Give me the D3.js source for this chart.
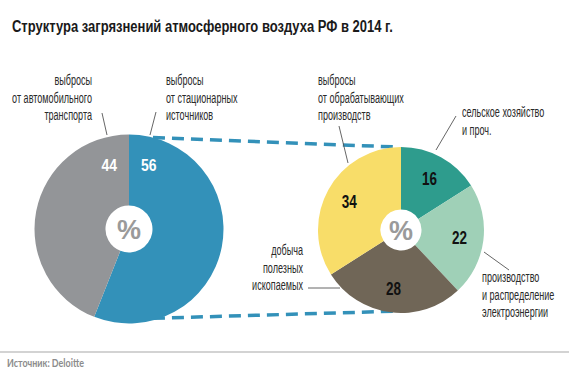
<!DOCTYPE html>
<html><head><meta charset="utf-8">
<script src="https://cdn.jsdelivr.net/npm/d3@7"></script>
<style>body{margin:0;background:#fff} svg{display:block}</style>
</head><body><svg id="c" width="569" height="380"></svg>
<script>
// ---------- data ----------
const title = "Структура загрязнений атмосферного воздуха РФ в 2014 г.";
const source = "Источник: Deloitte";
const outerCategories = ["выбросы от стационарных источников", "выбросы от автомобильного транспорта"];
const outerValues = [56, 44];
const outerLabelLines = [["выбросы", "от стационарных", "источников"], ["выбросы", "от автомобильного", "транспорта"]];
const innerCategories = ["сельское хозяйство и проч.", "производство и распределение электроэнергии", "добыча полезных ископаемых", "выбросы от обрабатывающих производств"];
const innerValues = [16, 22, 28, 34];
const innerLabelLines = [["сельское хозяйство", "и проч."], ["производство", "и распределение", "электроэнергии"], ["добыча", "полезных", "ископаемых"], ["выбросы", "от обрабатывающих", "производств"]];

// ---------- styles / layout ----------
const outerColors = ["#3391b9", "#939598"];
const innerColors = ["#2e9c8d", "#9fd0b7", "#706657", "#f8dd69"];
const NARROW = "'Liberation Sans Narrow','Liberation Sans',Arial,sans-serif";
const L = {cx: 129, cy: 229, r: 94.5, hole: 23.5};
const R = {cx: 401, cy: 230, r: 83, hole: 20.5};
const lineH = 17.6;
const outerLabelLayout = [
  {anchor: "start", x: 166, y: 85, leader: [[156, 112], [150, 135]]},
  {anchor: "end", x: 92, y: 85, leader: [[102, 113], [107, 135]]}
];
const innerLabelLayout = [
  {anchor: "start", x: 462, y: 117, leader: [[456, 116], [436, 150]]},
  {anchor: "start", x: 482, y: 282, leader: [[484, 252], [509, 270]]},
  {anchor: "end", x: 303, y: 255, leader: [[308, 288], [340, 288]]},
  {anchor: "start", x: 318, y: 85, leader: [[339, 126], [348, 163]]}
];

const svg = d3.select("#c");
const deg = Math.PI / 180;

function condense(sel, sx) {
  sel.each(function () {
    const t = d3.select(this);
    const x = +t.attr("x") || 0;
    t.attr("transform", `translate(${x * (1 - sx)},0) scale(${sx},1)`);
  });
}
function fitWidth(sel, target) {
  const w = sel.node().getComputedTextLength();
  condense(sel, target / w);
}

// title
const tt = svg.append("text").attr("x", 12).attr("y", 32)
  .attr("font-family", NARROW).attr("font-weight", "bold").attr("font-size", 17)
  .attr("fill", "#1a1a1a").text(title);
fitWidth(tt, 381);

// dashed connectors
const connectors = [
  [d3.pointRadial(14.7 * deg, L.r), d3.pointRadial(-2 * deg, R.r)],
  [d3.pointRadial(165 * deg, L.r - 2), d3.pointRadial(177 * deg, R.r - 2)]
];
svg.selectAll("line.conn").data(connectors).join("line").attr("class", "conn")
  .attr("x1", d => L.cx + d[0][0]).attr("y1", d => L.cy + d[0][1])
  .attr("x2", d => R.cx + d[1][0]).attr("y2", d => R.cy + d[1][1])
  .attr("stroke", "#3391b9").attr("stroke-width", 3.5).attr("stroke-dasharray", "12,7");

// pies
const pie = d3.pie().sort(null).value(d => d);
function drawPie(P, values, colors) {
  const g = svg.append("g").attr("transform", `translate(${P.cx},${P.cy})`);
  const arcs = pie(values);
  const arc = d3.arc().innerRadius(P.hole).outerRadius(P.r);
  g.selectAll("path").data(arcs).join("path").attr("d", arc).attr("fill", (d, i) => colors[i]);
  g.append("text").attr("text-anchor", "middle").attr("y", 10)
    .attr("font-family", "'Liberation Sans',Arial,sans-serif").attr("font-weight", "bold")
    .attr("font-size", 27).attr("fill", "#9a9a9a").text("%");
  return {g, arcs};
}
const left = drawPie(L, outerValues, outerColors);
const right = drawPie(R, innerValues, innerColors);

// left value labels (near top of each slice)
const lNum = left.g.selectAll("text.v").data(left.arcs).join("text").attr("class", "v")
  .each(function (d, i) {
    const a = i === 0 ? d.startAngle + 0.303 : d.endAngle - 0.303;
    const p = d3.pointRadial(a, 66.5);
    d3.select(this).attr("x", p[0]).attr("y", p[1] + 5.8);
  })
  .attr("text-anchor", "middle").attr("font-family", NARROW).attr("font-weight", "bold")
  .attr("font-size", 16).attr("fill", "#fff").text(d => d.data);
const sxL = 15.5 / lNum.node().getComputedTextLength();
condense(lNum, sxL);

// right value labels (centroids)
const cArc = d3.arc().innerRadius(59).outerRadius(59);
const rNum = right.g.selectAll("text.v").data(right.arcs).join("text").attr("class", "v")
  .attr("x", d => cArc.centroid(d)[0]).attr("y", d => cArc.centroid(d)[1] + 6.3)
  .attr("text-anchor", "middle").attr("font-family", NARROW).attr("font-weight", "bold")
  .attr("font-size", 17.5).attr("fill", "#111").text(d => d.data);
const sxR = 15 / rNum.node().getComputedTextLength();
condense(rNum, sxR);

// category labels
function drawLabels(lines, layout) {
  const sel = svg.append("g").selectAll("text").data(lines).join("text")
    .attr("x", (d, i) => layout[i].x).attr("y", (d, i) => layout[i].y)
    .attr("text-anchor", (d, i) => layout[i].anchor)
    .attr("font-family", NARROW).attr("font-size", 15).attr("fill", "#2a2a2a");
  sel.each(function (d, i) {
    d3.select(this).selectAll("tspan").data(d).join("tspan")
      .attr("x", layout[i].x).attr("dy", (t, j) => j === 0 ? 0 : lineH).text(t => t);
  });
  svg.append("g").selectAll("line").data(layout).join("line")
    .attr("x1", d => d.leader[0][0]).attr("y1", d => d.leader[0][1])
    .attr("x2", d => d.leader[1][0]).attr("y2", d => d.leader[1][1])
    .attr("stroke", "#555").attr("stroke-width", 0.9);
  return sel;
}
const oLab = drawLabels(outerLabelLines, outerLabelLayout);
const iLab = drawLabels(innerLabelLines, innerLabelLayout);
// measure reference line "от автомобильного" to find condensation
const refW = oLab.filter((d, i) => i === 1).selectAll("tspan").filter((t, j) => j === 1).node().getComputedTextLength();
const sxLab = 80 / refW;
condense(oLab, sxLab);
condense(iLab, sxLab);

// footer
svg.append("line").attr("x1", 0).attr("x2", 569).attr("y1", 352).attr("y2", 352)
  .attr("stroke", "#c4c4c4").attr("stroke-width", 1.5);
const src = svg.append("text").attr("x", 7).attr("y", 367)
  .attr("font-family", "Lato,'Open Sans',sans-serif").attr("font-weight", "bold").attr("font-size", 10.5)
  .attr("fill", "#8c8c8c").text(source);
fitWidth(src, 77);
</script></body></html>
